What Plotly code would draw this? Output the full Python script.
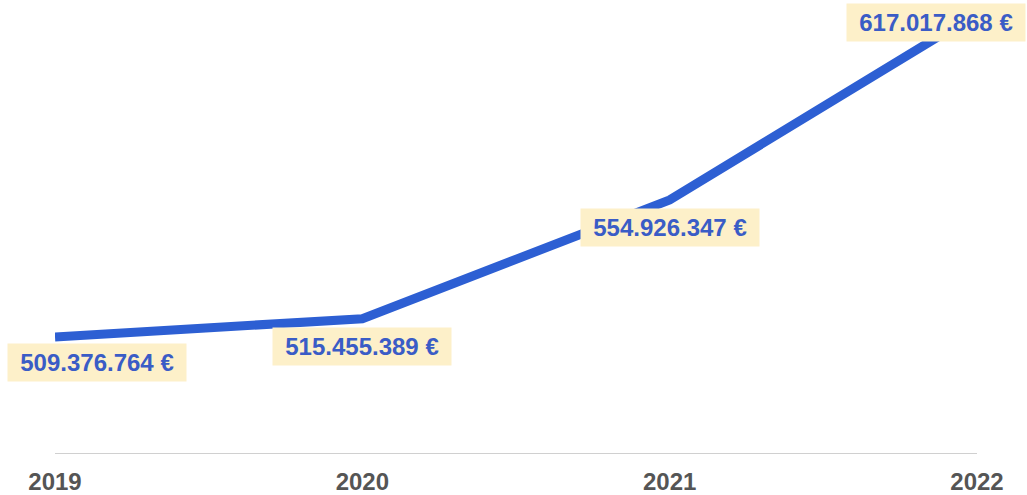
import plotly.graph_objects as go

years = [2019, 2020, 2021, 2022]
values = [509376764, 515455389, 554926347, 617017868]
tick_labels = ["2019", "2020", "2021", "2022"]

label_xshift = [42, 0, 0, -41]
label_yshift = [-26, -28, -28, -9]

FONT = "Liberation Sans, Arial, sans-serif"

def fmt(v):
    return f"{v:,}".replace(",", ".") + " €"

fig = go.Figure()
fig.add_trace(go.Scatter(
    x=years, y=values, mode="lines",
    line=dict(color="#2d5fd3", width=9),
    hoverinfo="skip", showlegend=False,
))

for x, v, xs, ys in zip(years, values, label_xshift, label_yshift):
    fig.add_annotation(
        x=x, y=v, xref="x", yref="y", text=fmt(v), showarrow=False,
        xshift=xs, yshift=ys, bgcolor="#fdf0c9", borderpad=5, width=168,
        font=dict(family=FONT, size=24, color="#3a5cc6", weight="bold"),
    )

fig.update_layout(
    width=1027, height=495,
    margin=dict(l=55, r=50, t=0, b=42),
    paper_bgcolor="white", plot_bgcolor="white",
    xaxis=dict(
        range=[2019, 2022], tickvals=years, ticktext=tick_labels,
        showgrid=False, zeroline=False, showline=True,
        linecolor="#d0d0d0", linewidth=1, ticks="",
        ticklabelstandoff=7,
        tickfont=dict(family=FONT, size=24, color="#555555", weight="bold"),
    ),
    yaxis=dict(
        range=[470.8e6, 621.4e6], showgrid=False, zeroline=False,
        showticklabels=False, showline=False, ticks="",
    ),
)

fig.write_html("out.html", config={"displayModeBar": False},
               post_script="document.body.style.margin='0';")
